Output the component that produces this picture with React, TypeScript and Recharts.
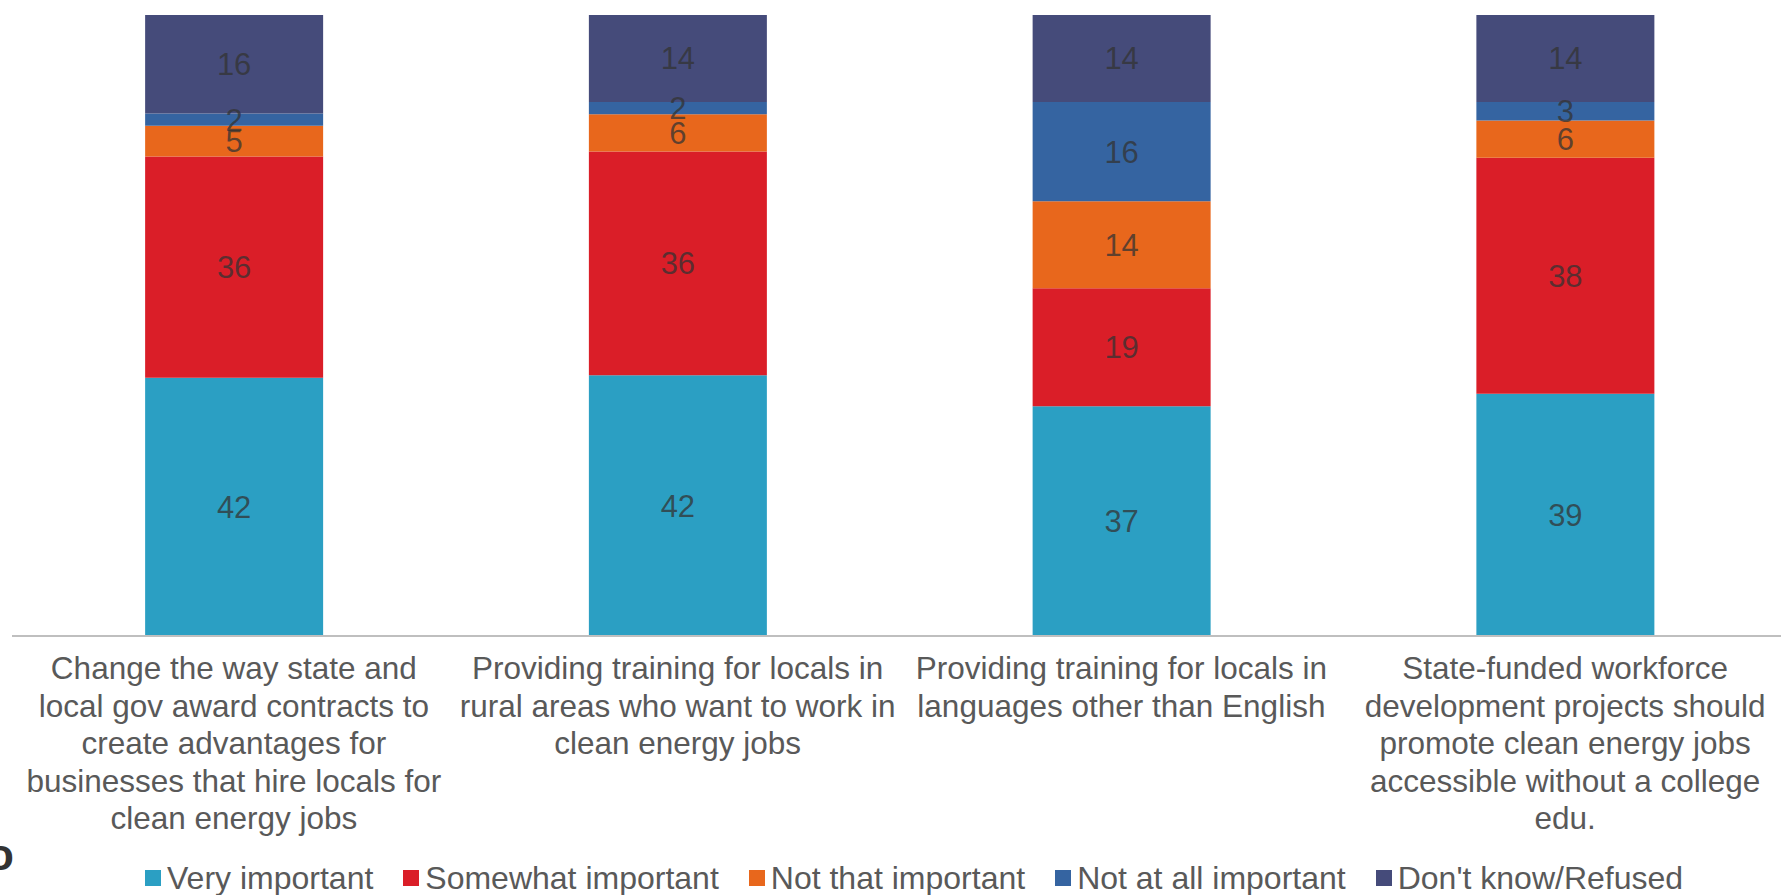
import { BarChart, Bar, XAxis, YAxis, Legend, LabelList } from "recharts";

const categories = [
  "Change the way state and local gov award contracts to create advantages for businesses that hire locals for clean energy jobs",
  "Providing training for locals in rural areas who want to work in clean energy jobs",
  "Providing training for locals in languages other than English",
  "State-funded workforce development projects should promote clean energy jobs accessible without a college edu.",
];

// wrapped tick labels, as they break in the original
const tickLines = [
  [
    "Change the way state and",
    "local gov award contracts to",
    "create advantages for",
    "businesses that hire locals for",
    "clean energy jobs",
  ],
  ["Providing training for locals in", "rural areas who want to work in", "clean energy jobs"],
  ["Providing training for locals in", "languages other than English"],
  [
    "State-funded workforce",
    "development projects should",
    "promote clean energy jobs",
    "accessible without a college",
    "edu.",
  ],
];

const veryImportant = [42, 42, 37, 39];
const somewhatImportant = [36, 36, 19, 38];
const notThatImportant = [5, 6, 14, 6];
const notAtAllImportant = [2, 2, 16, 3];
const dontKnow = [16, 14, 14, 14];

const data = categories.map((name, i) => ({
  name,
  "Very important": veryImportant[i],
  "Somewhat important": somewhatImportant[i],
  "Not that important": notThatImportant[i],
  "Not at all important": notAtAllImportant[i],
  "Don't know/Refused": dontKnow[i],
}));

const series = [
  { key: "Very important", color: "#2B9FC3" },
  { key: "Somewhat important", color: "#DA1E28" },
  { key: "Not that important", color: "#E8671C" },
  { key: "Not at all important", color: "#3564A1" },
  { key: "Don't know/Refused", color: "#454B7A" },
];

const FONT = "'Liberation Sans', Arial, sans-serif";

function CategoryTick(props: any) {
  const { x, y, payload } = props;
  const lines = tickLines[payload.index] || [String(payload.value)];
  return (
    <text
      x={x}
      y={y}
      textAnchor="middle"
      fill="#595959"
      fontSize={31.5}
      fontFamily={FONT}
    >
      {lines.map((line, i) => (
        <tspan key={i} x={x} dy={i === 0 ? 35 : 37.5}>
          {line}
        </tspan>
      ))}
    </text>
  );
}

function LegendContent(props: any) {
  const payload = props.payload || [];
  // keep the legend in series order (recharts lists stacked bars reversed)
  const items = series
    .map((s) => payload.find((p: any) => p.value === s.key || p.dataKey === s.key))
    .filter(Boolean);
  return (
    <div
      style={{
        height: 40,
        boxSizing: "border-box",
        paddingTop: 6,
        paddingLeft: 145,
        display: "flex",
        alignItems: "center",
        fontFamily: FONT,
        fontSize: 32,
        color: "#595959",
        whiteSpace: "nowrap",
      }}
    >
      {items.map((item: any) => (
        <div
          key={item.value}
          style={{ display: "flex", alignItems: "center", marginRight: 30 }}
        >
          <span
            style={{
              display: "inline-block",
              width: 16,
              height: 16,
              background: item.color,
              marginRight: 6,
            }}
          />
          <span>{item.value}</span>
        </div>
      ))}
    </div>
  );
}

export default function App() {
  return (
    <div
      style={{
        position: "absolute",
        left: 0,
        top: 0,
        width: 1781,
        height: 895,
        overflow: "hidden",
        background: "#fff",
      }}
    >
      <BarChart
        width={1800}
        height={895}
        data={data}
        stackOffset="expand"
        barCategoryGap="30%"
        margin={{ top: 15, right: 13, left: 12, bottom: 0 }}
      >
        <XAxis
          dataKey="name"
          height={219}
          tickLine={false}
          axisLine={{ stroke: "#BFBFBF", strokeWidth: 2 }}
          tick={<CategoryTick />}
          interval={0}
        />
        <YAxis hide domain={[0, 1]} />
        <Legend verticalAlign="bottom" content={<LegendContent />} wrapperStyle={{ left: 0, width: 1800 }} />
        {series.map((s) => (
          <Bar
            key={s.key}
            dataKey={s.key}
            stackId="a"
            fill={s.color}
            isAnimationActive={false}
          >
            <LabelList
              dataKey={s.key}
              position="center"
              fill="#333333"
              fillOpacity={0.75}
              fontSize={31}
              fontFamily={FONT}
            />
          </Bar>
        ))}
      </BarChart>
      <div
        style={{
          position: "absolute",
          left: -13,
          top: 833,
          fontFamily: FONT,
          fontSize: 44,
          lineHeight: "44px",
          fontWeight: "bold",
          color: "#333333",
        }}
      >
        o
      </div>
    </div>
  );
}
